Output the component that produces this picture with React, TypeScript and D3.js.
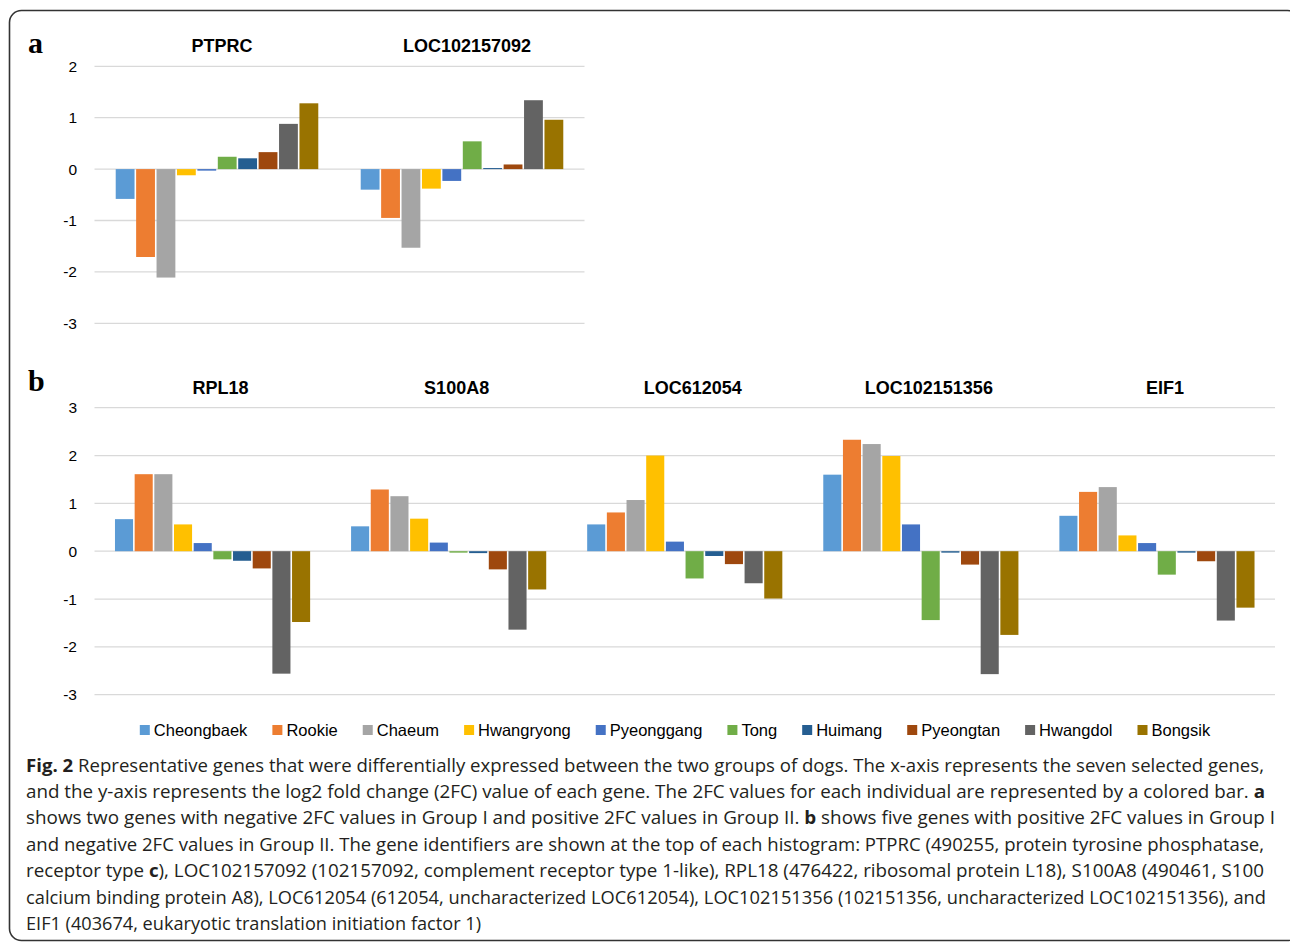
import React from "react";
import * as d3 from "d3";

const dogs = ["Cheongbaek", "Rookie", "Chaeum", "Hwangryong", "Pyeonggang", "Tong", "Huimang", "Pyeongtan", "Hwangdol", "Bongsik"];
const dogColors = ["#5B9BD5", "#ED7D31", "#A5A5A5", "#FFC000", "#4472C4", "#70AD47", "#255E91", "#9E480E", "#636363", "#997300"];

const genesA = ["PTPRC", "LOC102157092"];
const valuesPTPRC = [-0.58, -1.71, -2.11, -0.12, -0.03, 0.24, 0.21, 0.33, 0.88, 1.28];
const valuesLOC102157092 = [-0.40, -0.95, -1.53, -0.38, -0.23, 0.54, 0.02, 0.09, 1.34, 0.96];

const genesB = ["RPL18", "S100A8", "LOC612054", "LOC102151356", "EIF1"];
const valuesRPL18 = [0.67, 1.61, 1.61, 0.56, 0.17, -0.17, -0.20, -0.36, -2.56, -1.48];
const valuesS100A8 = [0.52, 1.29, 1.15, 0.68, 0.18, -0.03, -0.04, -0.38, -1.64, -0.80];
const valuesLOC612054 = [0.56, 0.81, 1.07, 2.00, 0.20, -0.57, -0.10, -0.27, -0.67, -0.99];
const valuesLOC102151356 = [1.60, 2.33, 2.24, 1.99, 0.56, -1.44, -0.03, -0.28, -2.57, -1.75];
const valuesEIF1 = [0.74, 1.24, 1.34, 0.33, 0.17, -0.49, -0.03, -0.21, -1.45, -1.18];

const ticksA = [2, 1, 0, -1, -2, -3];
const ticksB = [3, 2, 1, 0, -1, -2, -3];

const captionLines = [
  [{ t: "Fig. 2", b: true }, { t: " Representative genes that were differentially expressed between the two groups of dogs. The x-axis represents the seven selected genes," }],
  [{ t: "and the y-axis represents the log2 fold change (2FC) value of each gene. The 2FC values for each individual are represented by a colored bar. " }, { t: "a", b: true }],
  [{ t: "shows two genes with negative 2FC values in Group I and positive 2FC values in Group II. " }, { t: "b", b: true }, { t: " shows five genes with positive 2FC values in Group I" }],
  [{ t: "and negative 2FC values in Group II. The gene identifiers are shown at the top of each histogram: PTPRC (490255, protein tyrosine phosphatase," }],
  [{ t: "receptor type " }, { t: "c", b: true }, { t: "), LOC102157092 (102157092, complement receptor type 1-like), RPL18 (476422, ribosomal protein L18), S100A8 (490461, S100" }],
  [{ t: "calcium binding protein A8), LOC612054 (612054, uncharacterized LOC612054), LOC102151356 (102151356, uncharacterized LOC102151356), and" }],
  [{ t: "EIF1 (403674, eukaryotic translation initiation factor 1)" }],
];
const captionRight = [1264, 1265, 1275, 1264, 1264, 1266, 481];

const AXIS_FONT = "Arial, 'Liberation Sans', Helvetica, sans-serif";

function Panel(props: {
  genes: string[];
  values: number[][];
  x0: number;
  x1: number;
  yTop: number;
  yBottom: number;
  domain: [number, number];
  ticks: number[];
  label: string;
  labelY: number;
  titleY: number;
  titleDx: number;
}) {
  const { genes, values, x0, x1, yTop, yBottom, domain, ticks, label, labelY, titleY, titleDx } = props;
  const x = d3.scaleBand<string>().domain(genes).range([x0, x1]);
  const inner = d3.scaleBand<string>().domain(dogs).range([0, x.bandwidth()]).paddingInner(0).paddingOuter(1);
  const y = d3.scaleLinear().domain(domain).range([yBottom, yTop]);
  const step = inner.step();
  return (
    <g>
      <text x={28} y={labelY} fontFamily="'Liberation Serif', 'Times New Roman', serif" fontWeight="bold" fontSize={30} fill="#000">
        {label}
      </text>
      {ticks.map((t) => (
        <g key={t}>
          <line x1={x0} x2={x1} y1={y(t)} y2={y(t)} stroke="#d9d9d9" strokeWidth={1.3} />
          <text x={77} y={y(t)} dy="0.36em" textAnchor="end" fontFamily={AXIS_FONT} fontSize={15.5} fill="#000">
            {t}
          </text>
        </g>
      ))}
      {genes.map((g, gi) => (
        <g key={g}>
          <text
            x={(x(g) as number) + x.bandwidth() / 2 + titleDx}
            y={titleY}
            textAnchor="middle"
            fontFamily={AXIS_FONT}
            fontWeight="bold"
            fontSize={18}
            fill="#000"
          >
            {g}
          </text>
          {dogs.map((d, di) => {
            const v = values[gi][di];
            const bx = (x(g) as number) + (inner(d) as number);
            const yv = y(v);
            const y0 = y(0);
            return (
              <rect
                key={d}
                x={bx + 0.8}
                width={step - 1.6}
                y={Math.min(yv, y0)}
                height={Math.abs(yv - y0)}
                fill={dogColors[di]}
              />
            );
          })}
        </g>
      ))}
    </g>
  );
}

function measure(text: string, font: string): number {
  if (typeof document === "undefined") return text.length * 8;
  const c = document.createElement("canvas");
  const ctx = c.getContext("2d");
  if (!ctx) return text.length * 8;
  ctx.font = font;
  return ctx.measureText(text).width;
}

export default function App() {
  const legendFontSize = 16.5;
  const legendFont = `${legendFontSize}px Arial, 'Liberation Sans', sans-serif`;
  const widths = dogs.map((d) => measure(d, legendFont));
  const sq = 10;
  const gapSq = 4;
  const gapItem = 25;
  const total = d3.sum(widths) + dogs.length * (sq + gapSq) + (dogs.length - 1) * gapItem;
  const legendStart = 675 - total / 2;
  const positions: number[] = [];
  let acc = legendStart;
  widths.forEach((w) => {
    positions.push(acc);
    acc += sq + gapSq + w + gapItem;
  });
  const legendY = 730;

  return (
    <svg
      width={1290}
      height={942}
      style={{ position: "absolute", left: 0, top: 0, background: "#fff" }}
    >
      <rect x={0} y={0} width={1290} height={942} fill="#fff" />
      <rect x={9.5} y={10.5} width={1290} height={930} rx={12} ry={12} fill="none" stroke="#333" strokeWidth={1.6} />
      <Panel
        genes={genesA}
        values={[valuesPTPRC, valuesLOC102157092]}
        x0={94.5}
        x1={584.5}
        yTop={66.3}
        yBottom={323.3}
        domain={[-3, 2]}
        ticks={ticksA}
        label="a"
        labelY={53}
        titleY={51.5}
        titleDx={5}
      />
      <Panel
        genes={genesB}
        values={[valuesRPL18, valuesS100A8, valuesLOC612054, valuesLOC102151356, valuesEIF1]}
        x0={94.5}
        x1={1275}
        yTop={407.7}
        yBottom={694.7}
        domain={[-3, 3]}
        ticks={ticksB}
        label="b"
        labelY={391}
        titleY={393.5}
        titleDx={8}
      />
      {dogs.map((d, i) => (
        <g key={d}>
          <rect x={positions[i]} y={legendY - 5} width={sq} height={sq} fill={dogColors[i]} />
          <text
            x={positions[i] + sq + gapSq}
            y={legendY}
            dy="0.36em"
            fontFamily={AXIS_FONT}
            fontSize={legendFontSize}
            fill="#000"
          >
            {d}
          </text>
        </g>
      ))}
      {captionLines.map((line, li) => (
        <text
          key={li}
          x={26}
          y={771.5 + li * 26.4}
          fontFamily="'Open Sans', 'Noto Sans', sans-serif"
          fontSize={18.5}
          fill="#231f20"
          textLength={captionRight[li] - 26}
          lengthAdjust="spacingAndGlyphs"
        >
          {line.map((s, si) => (
            <tspan key={si} fontWeight={s.b ? "bold" : "normal"}>
              {s.t}
            </tspan>
          ))}
        </text>
      ))}
    </svg>
  );
}
